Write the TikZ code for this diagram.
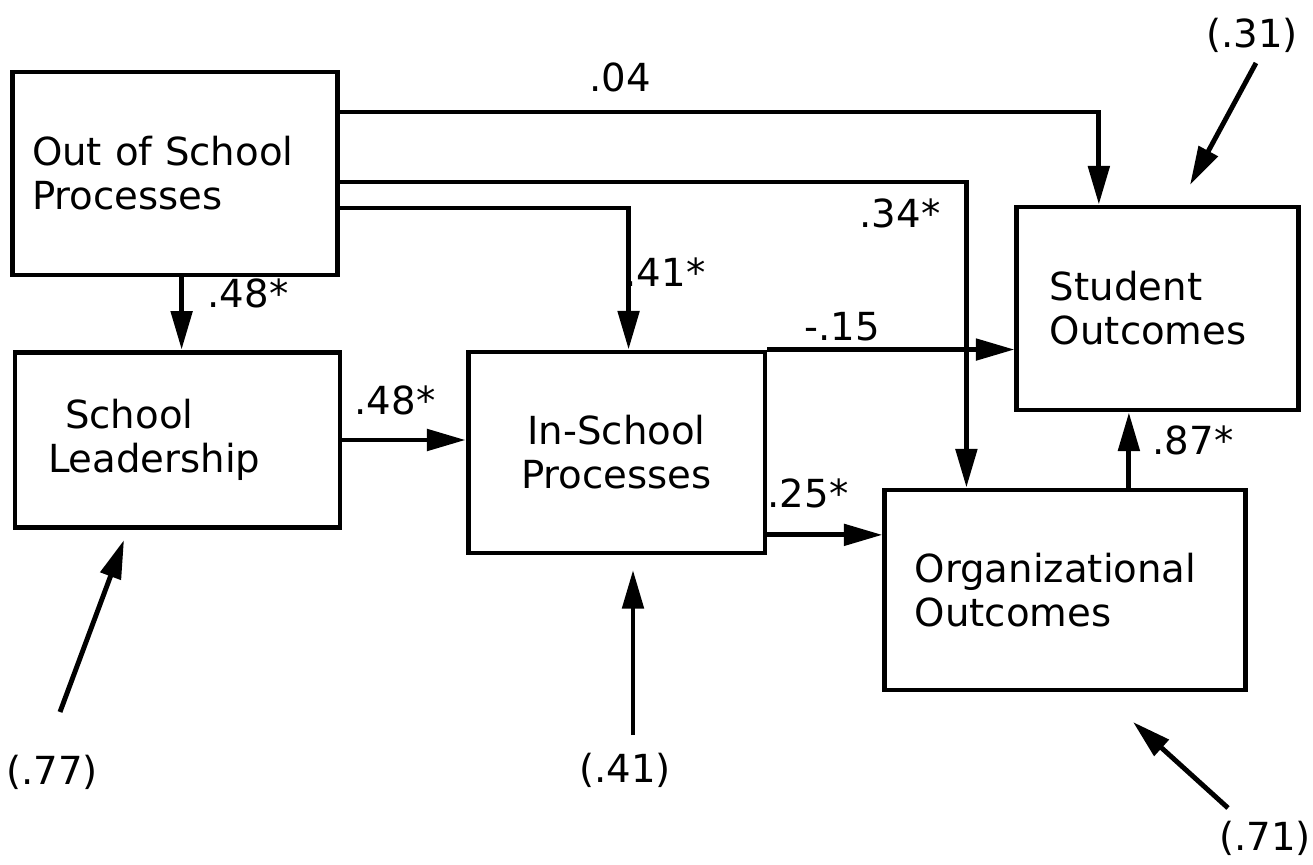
\documentclass[tikz,border=0pt]{standalone}
\usepackage{fontspec}
\setmainfont{DejaVu Sans}
\usetikzlibrary{arrows.meta, calc}

\begin{document}
\begin{tikzpicture}[x=0.02cm, y=-0.02cm,
  font=\fontsize{22}{25}\selectfont,
  box/.style={draw, line width=2.8pt, align=left},
  path/.style={-{Triangle[length=22pt,width=12pt]}, line width=2.8pt},
  coef/.style={inner sep=0pt}]

\useasboundingbox (0,0) rectangle (1313,865);

% boxes
\node[box, text width=162.7pt, inner xsep=11.4pt, minimum height=115.5pt] (oos) at (175,173.5) {Out of School\\Processes};
\node[box, text width=147.4pt, inner xsep=18.8pt, minimum height=100pt] (lead) at (177.5,440) {\hspace*{9.7pt}School\\Leadership};
\node[box, align=center, text width=149pt, inner xsep=10pt, minimum height=114.4pt] (isp) at (616.5,452.5) {In-School\\Processes};
\node[box, text width=122.4pt, inner xsep=18.8pt, minimum height=115.5pt] (stud) at (1157.5,308.5) {Student\\Outcomes};
\node[box, text width=171pt, inner xsep=17pt, minimum height=113.8pt] (org) at (1065,590) {Organizational\\Outcomes};

% paths
\draw[path] (oos.east |- 0,112) -| ($(stud.north west)!0.295!(stud.north east)$);
\draw[path] (oos.east |- 0,182) -| ($(org.north west)!0.23!(org.north east)$);
\draw[path] (oos.east |- 0,208) -| ($(isp.north west)!0.54!(isp.north east)$);
\coordinate (o1) at ($(oos.south west)!0.52!(oos.south east)$);
\draw[path] (o1) -- (o1 |- lead.north);
\draw[path] (lead.east) -- (lead.east -| isp.west);
\draw[path] (isp.north east) -- (isp.north east -| stud.west);
\coordinate (i1) at ($(isp.north east)!0.9!(isp.south east)$);
\draw[path] (i1) -- (i1 -| org.west);
\coordinate (g1) at ($(org.north west)!0.675!(org.north east)$);
\draw[path] (g1) -- (g1 |- stud.south);

% coefficients
\node[coef] (c04) at (620,77) {.04};
\node[coef] (c48a) at (248,293) {.48*};
\node[coef] (c48b) at (395,400) {.48*};
\node[coef] (c41) at (665,272) {.41*};
\node[coef] (c34) at (900,213) {.34*};
\node[coef] (c15) at (842,327) {-.15};
\node[coef] (c25) at (808,493) {.25*};
\node[coef] (c87) at (1193,440) {.87*};

% residuals
\node[coef] (e1) at (1252,35) {(.31)};
\node[coef] (e2) at (52,772) {(.77)};
\node[coef] (e3) at (625,770) {(.41)};
\node[coef] (e4) at (1265,838) {(.71)};
\coordinate (t1) at (1256,63);  \coordinate (h1) at (1190,185);
\coordinate (t2) at (60,712);   \coordinate (h2) at (124,540);
\coordinate (t3) at (633,735);  \coordinate (h3) at (633,570);
\coordinate (t4) at (1228,808); \coordinate (h4) at (1133,722);
\foreach \i in {1,...,4}
  \draw[path] (t\i) -- (h\i);

\end{tikzpicture}
\end{document}
